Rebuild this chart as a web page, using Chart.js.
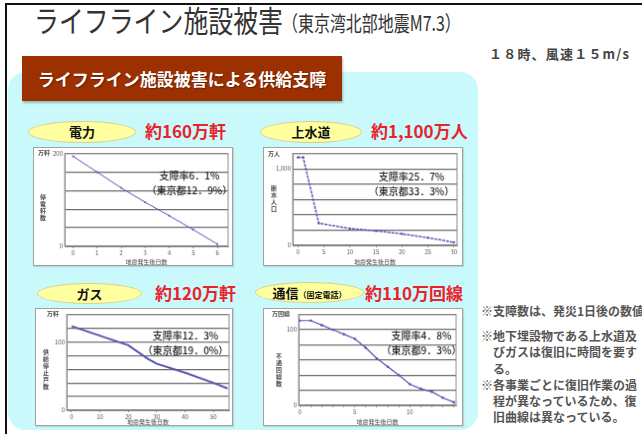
<!DOCTYPE html>
<html>
<head>
<meta charset="utf-8">
<script src="https://cdn.jsdelivr.net/npm/chart.js@4.4.1/dist/chart.umd.min.js"></script>
<style>
  html, body { margin: 0; padding: 0; }
  body { width: 642px; height: 434px; overflow: hidden; position: relative; background: #fff;
         font-family: "Noto Sans CJK JP", "Noto Sans", sans-serif; }
  .abs { position: absolute; white-space: nowrap; }
  #frame { left: 5px; top: 3px; width: 660px; height: 460px; border-top: 2px solid #111; border-left: 2px solid #111; }
  #title { left: 34px; top: 2px; font-size: 30px; line-height: 34px; color: #333; transform: scaleX(0.83); transform-origin: left top; }
  #subtitle { left: 282px; top: 9px; font-size: 21px; line-height: 26px; color: #333; transform: scaleX(0.76); transform-origin: left top; }
  #wind { left: 489px; top: 44px; font-size: 13px; font-weight: bold; color: #444; letter-spacing: 1.2px; }
  #panel { left: 8px; top: 72px; width: 470px; height: 358px; background: #c9f9fb; border-radius: 18px; }
  #banner { left: 22px; top: 56px; width: 320px; height: 45px; background: #9c3000; color: #fff;
            font-size: 17px; font-weight: bold; line-height: 45px; text-align: center;
            box-shadow: 1px 2px 2px rgba(0,0,0,0.25); text-shadow: 1px 1px 1px rgba(0,0,0,0.35); }
  .pill { background: #ffffa0; border: 1px solid #d4d48a; border-radius: 50%; text-align: center;
          font-weight: bold; color: #111; font-size: 13px; }
  .pill small { font-size: 8px; }
  .big { color: #e8232b; font-weight: bold; font-size: 17px; line-height: 20px; }
  canvas { position: absolute; border: 1px solid #a2a2a2; background: #fff; box-shadow: 1px 1px 1px rgba(0,0,0,0.12); }
  .notes { left: 481px; font-size: 12px; color: #555; font-weight: bold; line-height: 16.3px; }
</style>
</head>
<body>
<div id="panel" class="abs"></div>
<div id="frame" class="abs"></div>
<div id="title" class="abs">ライフライン施設被害</div>
<div id="subtitle" class="abs">（東京湾北部地震M7.3）</div>
<div id="wind" class="abs">１８時、風速１５m/s</div>
<div id="banner" class="abs">ライフライン施設被害による供給支障</div>

<div class="abs pill" style="left:28px;top:121px;width:106px;height:20px;line-height:20px;">電力</div>
<div class="abs big" style="left:145px;top:121px;">約160万軒</div>
<div class="abs pill" style="left:260px;top:121px;width:100px;height:20px;line-height:20px;">上水道</div>
<div class="abs big" style="left:371px;top:121px;">約1,100万人</div>
<div class="abs pill" style="left:37px;top:283px;width:103px;height:19px;line-height:19px;">ガス</div>
<div class="abs big" style="left:155px;top:283px;">約120万軒</div>
<div class="abs pill" style="left:255px;top:282px;width:107px;height:19px;line-height:19px;">通信<small>（固定電話）</small></div>
<div class="abs big" style="left:365px;top:283px;">約110万回線</div>

<canvas id="power" width="200" height="119" style="left:33px;top:147px;"></canvas>
<canvas id="water" width="200" height="119" style="left:263px;top:147px;"></canvas>
<canvas id="gas" width="198" height="118" style="left:35px;top:308px;"></canvas>
<canvas id="tel" width="200" height="118" style="left:263px;top:308px;"></canvas>

<div class="abs notes" style="top:303px;">※支障数は、発災1日後の数値</div>
<div class="abs notes" style="top:328px;">※地下埋設物である上水道及<br>　びガスは復旧に時間を要す<br>　る。<br>※各事業ごとに復旧作業の過<br>　程が異なっているため、復<br>　旧曲線は異なっている。</div>

<script>
// 電力: 停電軒数（万軒）
const powerDays = [0, 1, 2, 3, 4, 5, 6];
const powerOut = [194, 160, 126, 95, 66, 36, 5];
const powerYLabels = [0, 100, 200];
const powerNote = ["支障率6．1%", "（東京都12．9%）"];

// 上水道: 断水人口（万人）
const waterDays = [0, 1, 4, 10, 15, 20, 25, 30];
const waterOut = [1150, 1150, 290, 220, 190, 150, 100, 40];
const waterYLabels = [0, 1000];
const waterNote = ["支障率25．7%", "（東京都33．3%）"];

// ガス: 供給停止戸数（万軒）
const gasDays = [0, 10, 20, 27, 30, 40, 50, 55];
const gasOut = [123, 109, 95, 75, 68, 55, 40, 32];
const gasYLabels = [0, 100];
const gasNote = ["支障率12．3%", "（東京都19．0%）"];

// 通信（固定電話）: 不通回線数（万回線）
const telDays = [0, 1, 2, 3, 4, 5, 6, 7, 8, 9, 10, 11, 12, 13, 14];
const telOut = [112, 112, 106, 100, 94, 88, 76, 62, 51, 40, 28, 22, 18, 10, 4];
const telYLabels = [0, 100];
const telXLabels = [0, 5, 10];
const telNote = ["支障率4．8%", "（東京都9．3%）"];

const xTitle = "地震発生後日数";
const FONT = '"Noto Sans CJK JP", sans-serif';

// frame, unit, vertical axis title and rate notes
const decor = {
  id: "decor",
  afterDraw(chart, args, o) {
    const { ctx, chartArea: a } = chart;
    ctx.save();
    ctx.strokeStyle = "#8c8c8c";
    ctx.lineWidth = 1;
    ctx.strokeRect(a.left, a.top, a.right - a.left, a.bottom - a.top);

    ctx.fillStyle = "#444";
    ctx.font = "bold 6px " + FONT;
    ctx.textBaseline = "middle";
    ctx.textAlign = "left";
    ctx.fillText(o.unit, o.unitX, o.unitY);

    ctx.textAlign = "center";
    const chars = [...o.yTitle];
    chars.forEach((ch, i) => {
      ctx.fillText(ch, o.yTitleX, o.yTitleY + (i - (chars.length - 1) / 2) * 7);
    });

    ctx.font = "500 10px " + FONT;
    ctx.fillStyle = "#222";
    o.note.forEach((t, i) => ctx.fillText(t, o.noteX, o.noteY + i * 15));
    ctx.restore();
  }
};

function lifelineChart(id, c) {
  const canvas = document.getElementById(id);
  const w = canvas.width, h = canvas.height;
  return new Chart(canvas, {
    type: "line",
    data: {
      datasets: [{
        data: c.days.map((d, i) => ({ x: d, y: c.values[i] })),
        borderColor: "#5656b2",
        backgroundColor: "#5656b2",
        borderWidth: c.lw,
        pointRadius: c.pr,
        pointBorderWidth: 0,
        borderDash: c.dash || [],
        tension: 0
      }]
    },
    options: {
      responsive: false,
      animation: false,
      events: [],
      layout: { padding: { left: 0, top: c.top, right: w - c.right, bottom: 0 } },
      plugins: {
        legend: { display: false },
        tooltip: { enabled: false },
        decor: {
          unit: c.unit, unitX: c.unitX, unitY: c.unitY,
          yTitle: c.yTitle, yTitleX: c.yTitleX, yTitleY: c.yTitleY,
          note: c.note, noteX: c.noteX, noteY: c.noteY
        }
      },
      scales: {
        x: {
          type: "linear",
          min: c.xMin, max: c.xMax,
          ticks: {
            stepSize: c.xStep, includeBounds: false, autoSkip: false, maxRotation: 0,
            padding: 1, color: "#555", font: { size: 6, family: FONT },
            callback: v => (c.xLabels ? (c.xLabels.includes(v) ? v : "") : v)
          },
          grid: { drawOnChartArea: false, drawTicks: true, tickLength: 2, color: "#888" },
          border: { color: "#888" },
          title: { display: true, text: xTitle, color: "#444", font: { size: 6, family: FONT }, padding: 0 },
          afterFit: s => { s.height = h - c.bottom; }
        },
        y: {
          min: 0, max: c.yMax,
          ticks: {
            stepSize: c.yStep, padding: 2, color: "#555", font: { size: 6, family: FONT },
            callback: v => (c.yLabels.includes(v) ? v.toLocaleString("en-US") : "")
          },
          grid: { color: "#6e6e6e", lineWidth: 1.3, drawTicks: false },
          border: { color: "#888" },
          afterFit: s => { s.width = c.left; }
        }
      }
    },
    plugins: [decor]
  });
}

lifelineChart("power", {
  days: powerDays, values: powerOut, lw: 1, pr: 1,
  left: 31, right: 197, top: 3, bottom: 100,
  xMin: -0.35, xMax: 6.45, xStep: 1,
  yMax: 200, yStep: 20, yLabels: powerYLabels,
  unit: "万軒", unitX: 4, unitY: 5, yTitle: "停電軒数", yTitleX: 9, yTitleY: 60,
  note: powerNote, noteX: 157, noteY: 28
});

lifelineChart("water", {
  days: waterDays, values: waterOut, lw: 1.5, pr: 1.2, dash: [3, 1],
  left: 29, right: 195, top: 4, bottom: 99,
  xMin: -1, xMax: 30.6, xStep: 5,
  yMax: 1200, yStep: 200, yLabels: waterYLabels,
  unit: "万人", unitX: 4, unitY: 6, yTitle: "断水人口", yTitleX: 10, yTitleY: 51,
  note: waterNote, noteX: 149, noteY: 29
});

lifelineChart("gas", {
  days: gasDays, values: gasOut, lw: 2, pr: 0,
  left: 31, right: 195, top: 2, bottom: 103,
  xMin: -1.7, xMax: 55.5, xStep: 10,
  yMax: 140, yStep: 20, yLabels: gasYLabels,
  unit: "万軒", unitX: 11, unitY: 5, yTitle: "供給停止戸数", yTitleX: 10, yTitleY: 61,
  note: gasNote, noteX: 151, noteY: 27
});

lifelineChart("tel", {
  days: telDays, values: telOut, lw: 1.2, pr: 1.3,
  left: 35, right: 194, top: 3, bottom: 98,
  xMin: -0.1, xMax: 14.2, xStep: 1, xLabels: telXLabels,
  yMax: 120, yStep: 20, yLabels: telYLabels,
  unit: "万回線", unitX: 8, unitY: 5, yTitle: "不通回線数", yTitleX: 15, yTitleY: 62,
  note: telNote, noteX: 159, noteY: 27
});
</script>
</body>
</html>
